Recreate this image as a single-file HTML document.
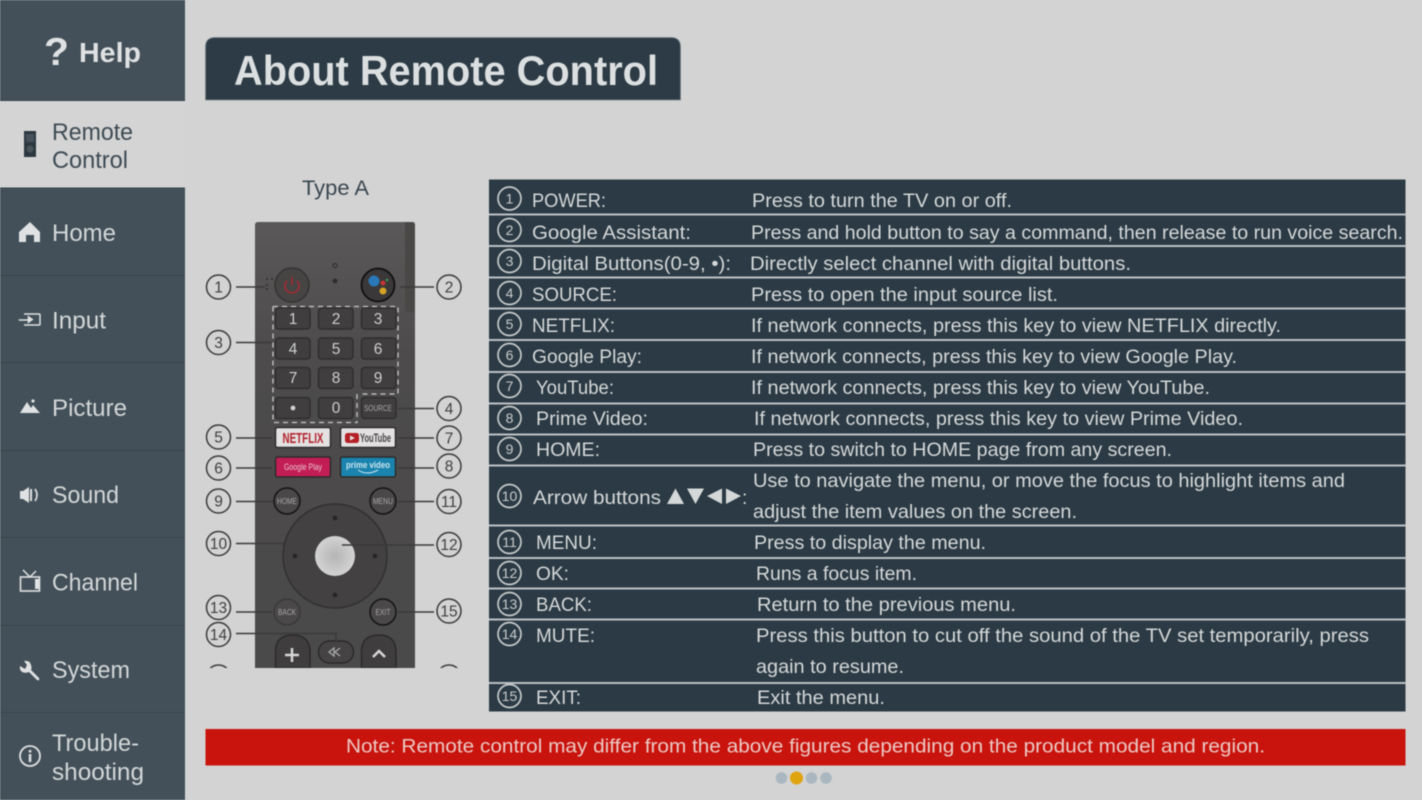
<!DOCTYPE html>
<html><head><meta charset="utf-8"><title>About Remote Control</title>
<style>
html,body{margin:0;padding:0;background:#d3d3d3;width:1422px;height:800px;overflow:hidden}
svg{display:block;filter:blur(.45px)}
text{font-family:"Liberation Sans",sans-serif}
.s{font-size:24px;fill:#d3d7d8}
.t{font-size:19.5px;fill:#d5d8d9}
.c{font-size:14px;fill:#c8cccd;text-anchor:middle}
.cc{fill:none;stroke:#c6cacb;stroke-width:1.7}
.o{fill:none;stroke:#3b3b3b;stroke-width:1.5}
.ot{font-size:15.5px;fill:#3f3f3f;text-anchor:middle}
.l{stroke:#3a3a3a;stroke-width:1.6;fill:none}
.k{fill:#403e3e;stroke:#2f2e2e;stroke-width:1.5}
.n{font-size:15.5px;fill:#cfcfcf;text-anchor:middle}
.m{font-size:8.5px;fill:#aaa;text-anchor:middle}
</style></head><body>
<svg xmlns="http://www.w3.org/2000/svg" width="1422" height="800" viewBox="0 0 1422 800">
<defs>
<linearGradient id="rg" x1="0" y1="0" x2="0" y2="1"><stop offset="0" stop-color="#5a5858"/><stop offset=".3" stop-color="#4d4b4b"/><stop offset="1" stop-color="#4b4a4a"/></linearGradient>
<radialGradient id="ok" cx=".5" cy=".5" r=".55"><stop offset="0" stop-color="#b4b4b4"/><stop offset="1" stop-color="#d6d6d6"/></radialGradient>
<clipPath id="rc"><path d="M255 668 V225 Q255 222 258 222 H412 Q415 222 415 225 V668 Z"/></clipPath>
<clipPath id="bot"><rect x="190" y="600" width="290" height="68"/></clipPath>
</defs>
<rect width="1422" height="800" fill="#d3d3d3"/>

<!-- sidebar -->
<rect x="0" y="0" width="185" height="800" fill="#435059"/>
<rect x="0" y="100" width="185" height="1.5" fill="#35424a"/>
<rect x="0" y="101" width="185" height="86.500" fill="#d4d4d4"/>
<rect x="0" y="187.500" width="185" height="1" fill="#35424a"/>
<g fill="#3a464e"><rect y="275" width="185" height="1"/><rect y="362" width="185" height="1"/><rect y="450" width="185" height="1"/><rect y="537" width="185" height="1"/><rect y="625" width="185" height="1"/><rect y="712" width="185" height="1"/></g>

<text x="44" y="65" font-size="39" font-weight="bold" fill="#dfe1e2" textLength="25" lengthAdjust="spacingAndGlyphs">?</text>
<text x="79" y="62" font-size="28" font-weight="bold" fill="#dfe1e2" textLength="62" lengthAdjust="spacingAndGlyphs">Help</text>

<rect x="24" y="131" width="12" height="26" fill="#2c3840"/><circle cx="30" cy="149" r="3.5" fill="#4a5359"/><rect x="26" y="134" width="8" height="8" fill="#47525a"/>
<text x="52" y="140" class="s" style="fill:#3e4b54" textLength="81" lengthAdjust="spacingAndGlyphs">Remote</text>
<text x="52" y="168" class="s" style="fill:#3e4b54" textLength="76" lengthAdjust="spacingAndGlyphs">Control</text>

<path d="M19 232 L30 222 L40 232 L40 242 L34 242 L34 235 L26 235 L26 242 L19 242 Z" fill="#dfe1e2"/>
<text x="52" y="241" class="s" textLength="64" lengthAdjust="spacingAndGlyphs">Home</text>

<path d="M24 314 H39 Q40 314 40 315 V324 Q40 325 39 325 H24" fill="none" stroke="#dfe1e2" stroke-width="1.5"/>
<path d="M19 319.5 H28 V316 L33 319.5 L28 323 V320.5 H19 Z" fill="#dfe1e2" stroke="#dfe1e2" stroke-width=".6"/>
<text x="52" y="328.500" class="s" textLength="54" lengthAdjust="spacingAndGlyphs">Input</text>

<path d="M20 413 L27 402 L31 408 L33 405 L40 413 Z" fill="#dfe1e2"/><circle cx="33" cy="401" r="1.6" fill="#dfe1e2"/>
<text x="52" y="416" class="s" textLength="75" lengthAdjust="spacingAndGlyphs">Picture</text>

<path d="M20 491 H23 L29 487 V503 L23 499 H20 Z" fill="#dfe1e2"/><rect x="30" y="489" width="2" height="12" fill="#dfe1e2"/>
<path d="M35 489 Q39 495 35 501" fill="none" stroke="#dfe1e2" stroke-width="1.6"/>
<text x="52" y="503" class="s" textLength="67" lengthAdjust="spacingAndGlyphs">Sound</text>

<rect x="20.5" y="577" width="19" height="14" fill="none" stroke="#dfe1e2" stroke-width="1.6"/>
<path d="M30 577 L23 570 M30 577 L36 571" stroke="#dfe1e2" stroke-width="1.5"/><rect x="35" y="579" width="4" height="10" fill="#dfe1e2"/>
<text x="52" y="590.500" class="s" textLength="86" lengthAdjust="spacingAndGlyphs">Channel</text>

<path d="M20 666 L25 669 L27 665 L24 661 Q30 660 31 665 Q32 668 31 670 L39 678 Q40 681 37 680 L29 672 Q24 674 21 671 Q19.5 669 20 666 Z" fill="#dfe1e2"/>
<text x="52" y="678" class="s" textLength="78" lengthAdjust="spacingAndGlyphs">System</text>

<circle cx="30" cy="756" r="10" fill="none" stroke="#dfe1e2" stroke-width="1.8"/><rect x="28.8" y="754" width="2.5" height="8" fill="#dfe1e2"/><rect x="28.8" y="750" width="2.5" height="2.5" fill="#dfe1e2"/>
<text x="52" y="751" class="s" textLength="87" lengthAdjust="spacingAndGlyphs">Trouble-</text>
<text x="52" y="780" class="s" textLength="92" lengthAdjust="spacingAndGlyphs">shooting</text>

<!-- title -->
<path d="M205.500 100 V47 Q205.500 37.500 215 37.500 H671 Q680.500 37.500 680.500 47 V100 Z" fill="#2c3b45" stroke="#7c878d" stroke-width=".8"/>
<text x="234" y="85" font-size="42" font-weight="bold" fill="#dcdfe0" textLength="424" lengthAdjust="spacingAndGlyphs">About Remote Control</text>

<text x="302" y="195" font-size="21" fill="#3a4750" textLength="67" lengthAdjust="spacingAndGlyphs">Type A</text>

<!-- remote -->
<g clip-path="url(#rc)">
<rect x="255" y="222" width="160" height="446" fill="url(#rg)"/>
<rect x="405" y="222" width="10" height="90" fill="#4a4846"/>
<circle cx="292" cy="285" r="17" fill="#474444" stroke="#343333" stroke-width="1.500"/>
<path d="M287 281 A7 7 0 1 0 297 281 M292 277 V285" fill="none" stroke="#a82a2f" stroke-width="1.500"/>
<circle cx="378" cy="285" r="16.500" fill="#3a3838" stroke="#111" stroke-width="1.800"/>
<circle cx="374" cy="281" r="5.500" fill="#2a78b8"/><circle cx="383" cy="283" r="2.500" fill="#c43636"/><circle cx="387" cy="280" r="1.300" fill="#3d9a56"/><circle cx="383" cy="291" r="3.500" fill="#d4a325"/>
<circle cx="335" cy="265.500" r="2" fill="none" stroke="#2a2a2a"/><circle cx="335" cy="281" r="2.400" fill="#2d2d2d"/>
<g fill="#2d2d2d"><circle cx="267" cy="279" r="1"/><circle cx="272" cy="279" r="1"/><circle cx="267" cy="285" r="1"/><circle cx="267" cy="289" r="1"/></g>

<path d="M273 306.500 H398 V394 H360 M357 394 V423 M273 306.500 V422.500 H357" fill="none" stroke="#c9c9c9" stroke-width="1.300" stroke-dasharray="5 4"/>
<g>
<rect class="k" x="275.500" y="308" width="34.500" height="21" rx="3"/><rect class="k" x="318.500" y="308" width="34.500" height="21" rx="3"/><rect class="k" x="361.500" y="308" width="34.500" height="21" rx="3"/>
<rect class="k" x="275.500" y="338" width="34.500" height="21" rx="3"/><rect class="k" x="318.500" y="338" width="34.500" height="21" rx="3"/><rect class="k" x="361.500" y="338" width="34.500" height="21" rx="3"/>
<rect class="k" x="275.500" y="367.500" width="34.500" height="21" rx="3"/><rect class="k" x="318.500" y="367.500" width="34.500" height="21" rx="3"/><rect class="k" x="361.500" y="367.500" width="34.500" height="21" rx="3"/>
<rect class="k" x="275.500" y="397.500" width="34.500" height="21" rx="3"/><rect class="k" x="318.500" y="397.500" width="34.500" height="21" rx="3"/><rect class="k" x="361.500" y="397.500" width="34.500" height="21" rx="3"/>
</g>
<text class="n" x="293" y="324">1</text><text class="n" x="336" y="324">2</text><text class="n" x="378" y="324">3</text>
<text class="n" x="293" y="354">4</text><text class="n" x="336" y="354">5</text><text class="n" x="378" y="354">6</text>
<text class="n" x="293" y="383">7</text><text class="n" x="336" y="383">8</text><text class="n" x="378" y="383">9</text>
<circle cx="293" cy="408" r="2.400" fill="#d0d0d0"/><text class="n" x="336" y="413">0</text><text class="m" x="378" y="411" textLength="28" lengthAdjust="spacingAndGlyphs">SOURCE</text>

<rect x="275.500" y="427.500" width="55" height="20" rx="2" fill="#e3e1e1" stroke="#2d2c2c" stroke-width="1.500"/>
<text x="303" y="443" font-size="14.500" font-weight="bold" fill="#b3222e" text-anchor="middle" textLength="41" lengthAdjust="spacingAndGlyphs">NETFLIX</text>
<rect x="340.500" y="427.500" width="55" height="20" rx="2" fill="#e3e1e1" stroke="#2d2c2c" stroke-width="1.500"/>
<rect x="345" y="433" width="14" height="10" rx="2.500" fill="#b32025"/><path d="M350 435.500 L355 438 L350 440.500 Z" fill="#e3e1e1"/>
<text x="360" y="442" font-size="12" font-weight="bold" fill="#444" textLength="31" lengthAdjust="spacingAndGlyphs">YouTube</text>
<rect x="275.500" y="457" width="55" height="20" rx="2" fill="#c21d55" stroke="#2d2c2c" stroke-width="1.500"/>
<text x="303" y="470" font-size="9" fill="#e8c3cf" text-anchor="middle" textLength="38" lengthAdjust="spacingAndGlyphs">Google Play</text>
<rect x="340.500" y="457" width="55" height="20" rx="2" fill="#1a83ae" stroke="#2d2c2c" stroke-width="1.500"/>
<text x="368" y="468" font-size="9.500" font-weight="bold" fill="#cde7f0" text-anchor="middle" textLength="44" lengthAdjust="spacingAndGlyphs">prime video</text>
<path d="M358 470 Q367 476 378 470" fill="none" stroke="#cde7f0" stroke-width="1"/>

<circle cx="287" cy="501" r="13" fill="#4a4848" stroke="#141414" stroke-width="1.500"/><text class="m" x="287" y="504" textLength="20" lengthAdjust="spacingAndGlyphs">HOME</text>
<circle cx="383" cy="501" r="13" fill="#4a4848" stroke="#141414" stroke-width="1.500"/><text class="m" x="383" y="504" textLength="20" lengthAdjust="spacingAndGlyphs">MENU</text>

<circle cx="335" cy="556" r="52" fill="#434141" stroke="#313030" stroke-width="1.500"/>
<circle cx="335" cy="556" r="20" fill="url(#ok)"/>
<g fill="#262626"><circle cx="335" cy="518" r="2.400"/><circle cx="335" cy="595" r="2.400"/><circle cx="295" cy="556" r="2.400"/><circle cx="375" cy="556" r="2.400"/></g>

<circle cx="287" cy="612" r="13" fill="#4a4848" stroke="#3a3939" stroke-width="1.500"/><text class="m" x="287" y="615" textLength="18" lengthAdjust="spacingAndGlyphs">BACK</text>
<circle cx="383" cy="612" r="13" fill="#4a4848" stroke="#141414" stroke-width="1.500"/><text class="m" x="383" y="615" textLength="15" lengthAdjust="spacingAndGlyphs">EXIT</text>

<path d="M275.500 668 V652 Q275.500 635 292.500 635 Q310 635 310 652 V668 Z" fill="#3f3d3d" stroke="#2b2a2a" stroke-width="1.500"/>
<path d="M361.500 668 V652 Q361.500 635 378.500 635 Q396 635 396 652 V668 Z" fill="#3f3d3d" stroke="#2b2a2a" stroke-width="1.500"/>
<rect x="318.500" y="641" width="35" height="22" rx="11" fill="#454343" stroke="#2b2a2a" stroke-width="1.500"/>
<path d="M329 652 L334 648 V656 Z M340 648 L335 652 L340 656" fill="none" stroke="#aaa" stroke-width="1.300"/>
<path d="M292 648 V662 M285 655 H299" stroke="#d8d8d8" stroke-width="2.500"/>
<path d="M373 657 L379 651 L385 657" fill="none" stroke="#d8d8d8" stroke-width="2.500"/>
</g>

<!-- callout lines -->
<g class="l">
<path d="M236 287 H265"/><path d="M400 287 H434"/>
<path d="M236 342.500 H272"/><path d="M398 408.500 H434"/>
<path d="M236 438 H272"/><path d="M398 438 H434"/>
<path d="M236 468 H272"/><path d="M398 468 H434"/>
<path d="M236 501.500 H273"/><path d="M398 501.500 H434"/>
<path d="M236 543.500 H284"/><path d="M342 545 H434"/>
<path d="M236 612 H272"/><path d="M398 612 H434"/>
<path d="M236 633.500 H336 V642"/>
</g>
<circle class="o" cx="218.500" cy="287" r="12"/><text class="ot" x="218.500" y="292.500">1</text>
<circle class="o" cx="449" cy="287" r="12"/><text class="ot" x="449" y="292.500">2</text>
<circle class="o" cx="218.500" cy="342.500" r="12"/><text class="ot" x="218.500" y="348">3</text>
<circle class="o" cx="449" cy="408.500" r="12"/><text class="ot" x="449" y="414">4</text>
<circle class="o" cx="218.500" cy="437" r="12"/><text class="ot" x="218.500" y="442.500">5</text>
<circle class="o" cx="449" cy="438" r="12"/><text class="ot" x="449" y="443.500">7</text>
<circle class="o" cx="218.500" cy="468" r="12"/><text class="ot" x="218.500" y="473.500">6</text>
<circle class="o" cx="449" cy="466" r="12"/><text class="ot" x="449" y="471.500">8</text>
<circle class="o" cx="218.500" cy="501" r="12"/><text class="ot" x="218.500" y="506.500">9</text>
<circle class="o" cx="449" cy="501.500" r="12"/><text class="ot" x="449" y="507">11</text>
<circle class="o" cx="218.500" cy="543.500" r="12"/><text class="ot" x="218.500" y="549">10</text>
<circle class="o" cx="449" cy="544.500" r="12"/><text class="ot" x="449" y="550">12</text>
<circle class="o" cx="218.500" cy="607.500" r="12"/><text class="ot" x="218.500" y="613">13</text>
<circle class="o" cx="449" cy="611" r="12"/><text class="ot" x="449" y="616.500">15</text>
<circle class="o" cx="218.500" cy="634.500" r="12"/><text class="ot" x="218.500" y="640">14</text>
<g clip-path="url(#bot)"><circle class="o" cx="218.500" cy="677" r="12"/><circle class="o" cx="449" cy="677" r="12"/></g>

<!-- table -->
<rect x="489" y="179.500" width="916.500" height="532" fill="#2b3a44"/>
<g fill="#bcc1c4">
<rect x="489" y="213.500" width="917" height="2"/><rect x="489" y="245" width="917" height="2"/><rect x="489" y="276.500" width="917" height="2"/><rect x="489" y="307.500" width="917" height="2"/><rect x="489" y="339" width="917" height="2"/><rect x="489" y="371" width="917" height="2"/><rect x="489" y="402.500" width="917" height="2"/><rect x="489" y="433.500" width="917" height="2"/><rect x="489" y="464.500" width="917" height="2"/><rect x="489" y="524.500" width="917" height="2"/><rect x="489" y="557" width="917" height="2"/><rect x="489" y="587.500" width="917" height="2"/><rect x="489" y="618.500" width="917" height="2"/><rect x="489" y="682" width="917" height="2"/>
</g>

<g>
<circle class="cc" cx="509.500" cy="198.500" r="11.500"/><text class="c" x="509.500" y="203.500">1</text>
<circle class="cc" cx="509.500" cy="230" r="11.500"/><text class="c" x="509.500" y="235">2</text>
<circle class="cc" cx="509.500" cy="261" r="11.500"/><text class="c" x="509.500" y="266">3</text>
<circle class="cc" cx="509.500" cy="293" r="11.500"/><text class="c" x="509.500" y="298">4</text>
<circle class="cc" cx="509.500" cy="324" r="11.500"/><text class="c" x="509.500" y="329">5</text>
<circle class="cc" cx="509.500" cy="355" r="11.500"/><text class="c" x="509.500" y="360">6</text>
<circle class="cc" cx="509.500" cy="386" r="11.500"/><text class="c" x="509.500" y="391">7</text>
<circle class="cc" cx="509.500" cy="418" r="11.500"/><text class="c" x="509.500" y="423">8</text>
<circle class="cc" cx="509.500" cy="449" r="11.500"/><text class="c" x="509.500" y="454">9</text>
<circle class="cc" cx="509.500" cy="496" r="11.500"/><text class="c" x="509.500" y="501">10</text>
<circle class="cc" cx="509.500" cy="542" r="11.500"/><text class="c" x="509.500" y="547">11</text>
<circle class="cc" cx="509.500" cy="573" r="11.500"/><text class="c" x="509.500" y="578">12</text>
<circle class="cc" cx="509.500" cy="604" r="11.500"/><text class="c" x="509.500" y="609">13</text>
<circle class="cc" cx="509.500" cy="634" r="11.500"/><text class="c" x="509.500" y="639">14</text>
<circle class="cc" cx="509.500" cy="696" r="11.500"/><text class="c" x="509.500" y="701">15</text>
</g>

<g class="t">
<text class="t" x="532" y="207" textLength="74" lengthAdjust="spacingAndGlyphs">POWER:</text>
<text class="t" x="532" y="239" textLength="159" lengthAdjust="spacingAndGlyphs">Google Assistant:</text>
<text class="t" x="532" y="270" textLength="199" lengthAdjust="spacingAndGlyphs">Digital Buttons(0-9, •):</text>
<text class="t" x="532" y="301" textLength="85" lengthAdjust="spacingAndGlyphs">SOURCE:</text>
<text class="t" x="532" y="332" textLength="83" lengthAdjust="spacingAndGlyphs">NETFLIX:</text>
<text class="t" x="532" y="363" textLength="110" lengthAdjust="spacingAndGlyphs">Google Play:</text>
<text class="t" x="536" y="394" textLength="78" lengthAdjust="spacingAndGlyphs">YouTube:</text>
<text class="t" x="536" y="425" textLength="112" lengthAdjust="spacingAndGlyphs">Prime Video:</text>
<text class="t" x="536" y="456" textLength="64" lengthAdjust="spacingAndGlyphs">HOME:</text>
<text class="t" x="533" y="504" textLength="128" lengthAdjust="spacingAndGlyphs">Arrow buttons</text>
<text class="t" x="742" y="504">:</text>
<text class="t" x="536" y="549" textLength="61" lengthAdjust="spacingAndGlyphs">MENU:</text>
<text class="t" x="536" y="580" textLength="33" lengthAdjust="spacingAndGlyphs">OK:</text>
<text class="t" x="536" y="611" textLength="56" lengthAdjust="spacingAndGlyphs">BACK:</text>
<text class="t" x="536" y="642" textLength="59" lengthAdjust="spacingAndGlyphs">MUTE:</text>
<text class="t" x="536" y="704" textLength="45" lengthAdjust="spacingAndGlyphs">EXIT:</text>

<text class="t" x="752" y="207" textLength="260" lengthAdjust="spacingAndGlyphs">Press to turn the TV on or off.</text>
<text class="t" x="751" y="239" textLength="652" lengthAdjust="spacingAndGlyphs">Press and hold button to say a command, then release to run voice search.</text>
<text class="t" x="750" y="270" textLength="381" lengthAdjust="spacingAndGlyphs">Directly select channel with digital buttons.</text>
<text class="t" x="751" y="301" textLength="307" lengthAdjust="spacingAndGlyphs">Press to open the input source list.</text>
<text class="t" x="751" y="332" textLength="530" lengthAdjust="spacingAndGlyphs">If network connects, press this key to view NETFLIX directly.</text>
<text class="t" x="751" y="363" textLength="486" lengthAdjust="spacingAndGlyphs">If network connects, press this key to view Google Play.</text>
<text class="t" x="751" y="394" textLength="459" lengthAdjust="spacingAndGlyphs">If network connects, press this key to view YouTube.</text>
<text class="t" x="754" y="425" textLength="489" lengthAdjust="spacingAndGlyphs">If network connects, press this key to view Prime Video.</text>
<text class="t" x="753" y="456" textLength="419" lengthAdjust="spacingAndGlyphs">Press to switch to HOME page from any screen.</text>
<text class="t" x="753" y="487" textLength="592" lengthAdjust="spacingAndGlyphs">Use to navigate the menu, or move the focus to highlight items and</text>
<text class="t" x="753" y="518" textLength="324" lengthAdjust="spacingAndGlyphs">adjust the item values on the screen.</text>
<text class="t" x="754" y="549" textLength="232" lengthAdjust="spacingAndGlyphs">Press to display the menu.</text>
<text class="t" x="756" y="580" textLength="161" lengthAdjust="spacingAndGlyphs">Runs a focus item.</text>
<text class="t" x="757" y="611" textLength="259" lengthAdjust="spacingAndGlyphs">Return to the previous menu.</text>
<text class="t" x="756" y="642" textLength="613" lengthAdjust="spacingAndGlyphs">Press this button to cut off the sound of the TV set temporarily, press</text>
<text class="t" x="756" y="673" textLength="148" lengthAdjust="spacingAndGlyphs">again to resume.</text>
<text class="t" x="757" y="704" textLength="128" lengthAdjust="spacingAndGlyphs">Exit the menu.</text>
</g>
<g fill="#d5d8d9">
<path d="M667 504 L675.500 488.500 L684 504 Z"/><path d="M687 488.500 H704 L695.500 504 Z"/><path d="M707 496 L722 488.500 V504 Z"/><path d="M726 488.500 L741 496 L726 504 Z"/>
</g>

<!-- note -->
<rect x="205.500" y="729" width="1200" height="36.500" fill="#c9130d"/>
<text x="346" y="752.500" font-size="19.500" fill="#ecc9c4" textLength="919" lengthAdjust="spacingAndGlyphs">Note:  Remote control may differ from the above figures depending on the product model and region.</text>

<circle cx="781.500" cy="778" r="5.800" fill="#aab7c0"/>
<circle cx="796.500" cy="778" r="6.500" fill="#dfa40f"/>
<circle cx="811.500" cy="778" r="5.800" fill="#aab7c0"/>
<circle cx="826" cy="778" r="5.800" fill="#aab7c0"/>
</svg>
</body></html>
